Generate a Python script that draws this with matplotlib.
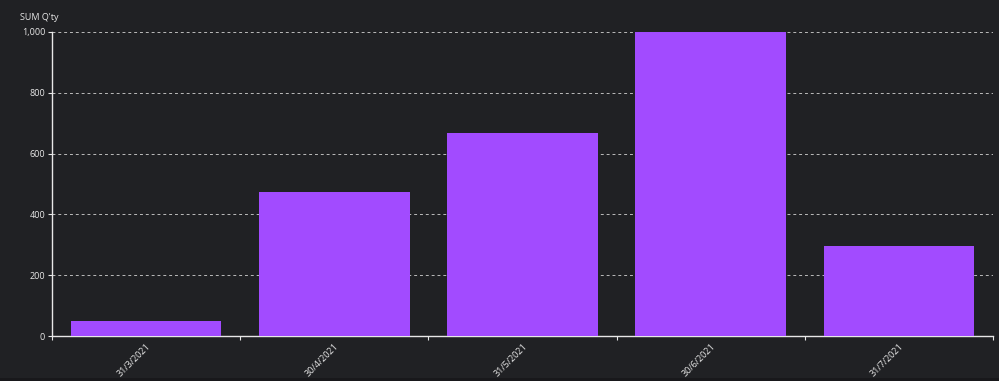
import matplotlib
matplotlib.use("Agg")
import matplotlib.pyplot as plt
import numpy as np
from matplotlib.ticker import FuncFormatter
from matplotlib.patches import Rectangle

# Values
dates = ["31/3/2021", "30/4/2021", "31/5/2021", "30/6/2021", "31/7/2021"]
qty = [49, 474, 667, 999, 296]
y_ticks = [0, 200, 400, 600, 800, 1000]

bg = "#202124"
fg = "#e8e8e8"
bar_color = "#a24bff"

plt.rcParams["font.family"] = ["Open Sans", "DejaVu Sans"]

fig = plt.figure(figsize=(9.99, 3.81), dpi=100, facecolor=bg)
# thin darker strip along the bottom edge
fig.patches.append(Rectangle((0, 0), 1, 3 / 381, transform=fig.transFigure,
                             facecolor="#18181b", edgecolor="none", zorder=0))
ax = fig.add_axes([52 / 999, 45 / 381, 941 / 999, 304 / 381], facecolor=bg)

x = np.arange(len(dates))
ax.bar(x, qty, width=0.8, color=bar_color, zorder=3)

ax.set_xlim(-0.5, len(dates) - 0.5)
ax.set_ylim(0, 1000)

# category labels at centres, tick marks at category boundaries
ax.set_xticks(x)
ax.set_xticklabels(dates, rotation=45, ha="right", rotation_mode="anchor",
                   fontsize=6.5, color=fg)
ax.tick_params(axis="x", which="major", length=0, pad=4)
ax.set_xticks(np.arange(len(dates) + 1) - 0.5, minor=True)
ax.tick_params(axis="x", which="minor", length=3, color=fg, width=0.8)

ax.set_yticks(y_ticks)
ax.yaxis.set_major_formatter(FuncFormatter(lambda v, p: f"{int(v):,}"))
ax.tick_params(axis="y", length=3, color=fg, width=0.8, labelsize=6.5,
               labelcolor=fg, pad=2)

ax.grid(axis="y", color="#bbbbbb", linestyle=(0, (3, 3)), linewidth=0.7, zorder=1)

for side in ["top", "right"]:
    ax.spines[side].set_visible(False)
for side in ["left", "bottom"]:
    ax.spines[side].set_color(fg)
    ax.spines[side].set_linewidth(1.0)

fig.text(20 / 999, 1 - 17 / 381, "SUM Q'ty", fontsize=6.5, color=fg,
         ha="left", va="center")

fig.savefig("out.png", dpi=100, facecolor=bg)
